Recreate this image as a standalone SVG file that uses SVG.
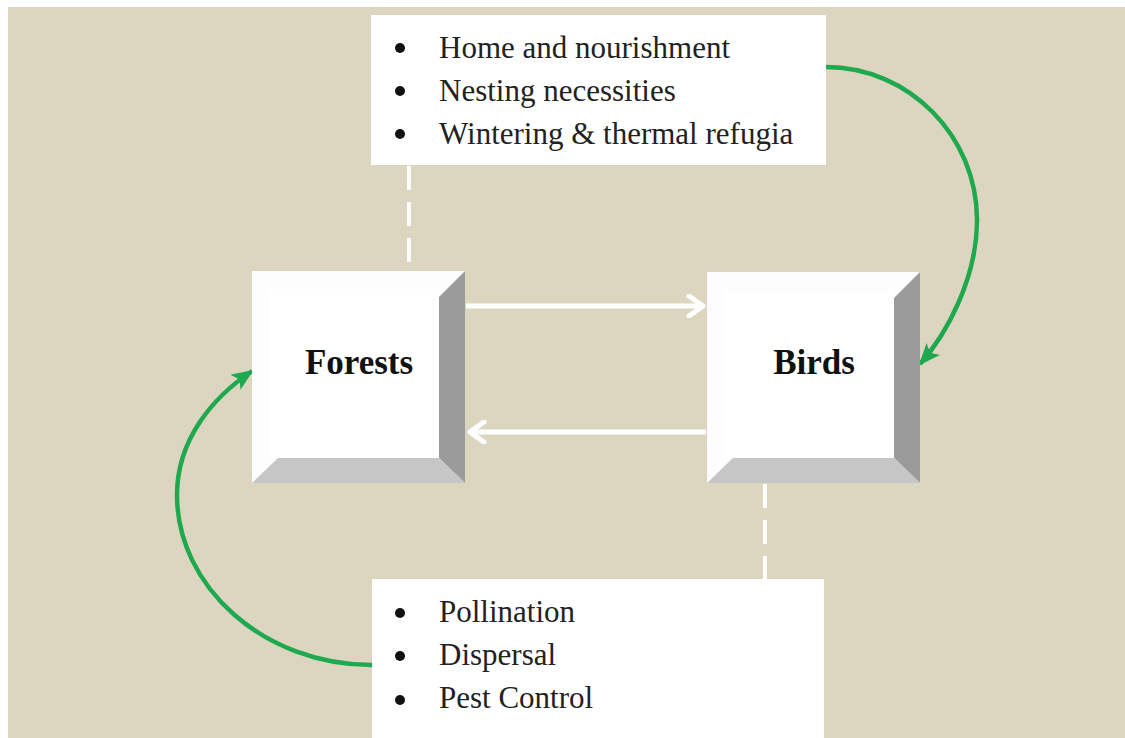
<svg xmlns="http://www.w3.org/2000/svg" width="1125" height="738" viewBox="0 0 1125 738">
<defs>
<style>
.bg{fill:#DCD6C1}
.box{fill:#FFFFFF}
.face{fill:#FFFFFF}
.hl{fill:#FDFDFD}
.rs{fill:#9B9B9B}
.bs{fill:#C6C6C6}
.lbl{font-family:"Liberation Serif","Times New Roman",serif;font-weight:bold;font-size:35px;fill:#111;text-anchor:middle}
.item{font-family:"Liberation Serif","Times New Roman",serif;font-size:31px;fill:#222}
.bul{fill:#111}
.green{fill:none;stroke:#1EA94F;stroke-width:4.5}
.white{fill:none;stroke:#FFFFFF;stroke-width:5}
.dash{fill:none;stroke:#FFFFFF;stroke-width:4;stroke-dasharray:24 12}
</style>
<marker id="gArrow" viewBox="0 0 22 18" refX="20" refY="9" markerWidth="22" markerHeight="18" markerUnits="userSpaceOnUse" orient="auto">
<path d="M0,0 L22,9 L0,18 L5,9 Z" fill="#1EA94F"/>
</marker>
<marker id="wArrow" viewBox="0 0 24 24" refX="21" refY="12" markerWidth="24" markerHeight="24" markerUnits="userSpaceOnUse" orient="auto">
<path d="M6,2 L20,12 L6,22" fill="none" stroke="#FFFFFF" stroke-width="5" stroke-linecap="round" stroke-linejoin="round"/>
</marker>
</defs>
<rect x="0" y="0" width="1125" height="738" fill="#FFFFFF"/>
<rect class="bg" x="8" y="7" width="1117" height="731"/>

<g id="connectors">
<path class="dash" d="M409,166 V271"/>
<path class="dash" d="M765,484 V579"/>
<path class="white" d="M466,306 H704" marker-end="url(#wArrow)"/>
<path class="white" d="M706,432 H469" marker-end="url(#wArrow)"/>
<path class="green" d="M826,67 C909,67 977,136 977,220 C977,280 945,336 920,364" marker-end="url(#gArrow)"/>
<path class="green" d="M372,665 C264,665 177,587 177,495 C177,440 212,398 252,371" marker-end="url(#gArrow)"/>
</g>

<g id="top-list">
<rect class="box" x="371" y="15" width="455" height="150"/>
<circle class="bul" cx="400" cy="48" r="5"/>
<circle class="bul" cx="400" cy="91" r="5"/>
<circle class="bul" cx="400" cy="134" r="5"/>
<text class="item" x="439" y="58">Home and nourishment</text>
<text class="item" x="439" y="101">Nesting necessities</text>
<text class="item" x="439" y="144">Wintering &amp; thermal refugia</text>
</g>

<g id="forests">
<rect class="face" x="252" y="271" width="213" height="212"/>
<polygon class="hl" points="252,271 465,271 439,297 278,297"/>
<polygon class="hl" points="252,271 278,297 278,458 252,483"/>
<rect class="face" x="270" y="289" width="169" height="169"/>
<polygon class="rs" points="465,271 465,483 439,458 439,297"/>
<polygon class="bs" points="252,483 465,483 439,458 278,458"/>
<text class="lbl" x="359" y="374">Forests</text>
</g>

<g id="birds">
<rect class="face" x="707" y="272" width="213" height="211"/>
<polygon class="hl" points="707,272 920,272 894,298 733,298"/>
<polygon class="hl" points="707,272 733,298 733,458 707,483"/>
<rect class="face" x="725" y="290" width="169" height="168"/>
<polygon class="rs" points="920,272 920,483 894,458 894,298"/>
<polygon class="bs" points="707,483 920,483 894,458 733,458"/>
<text class="lbl" x="814" y="374">Birds</text>
</g>

<g id="bottom-list">
<rect class="box" x="372" y="579" width="452" height="159"/>
<circle class="bul" cx="400" cy="613" r="5"/>
<circle class="bul" cx="400" cy="656" r="5"/>
<circle class="bul" cx="400" cy="700" r="5"/>
<text class="item" x="439" y="622">Pollination</text>
<text class="item" x="439" y="665">Dispersal</text>
<text class="item" x="439" y="708">Pest Control</text>
</g>
</svg>
